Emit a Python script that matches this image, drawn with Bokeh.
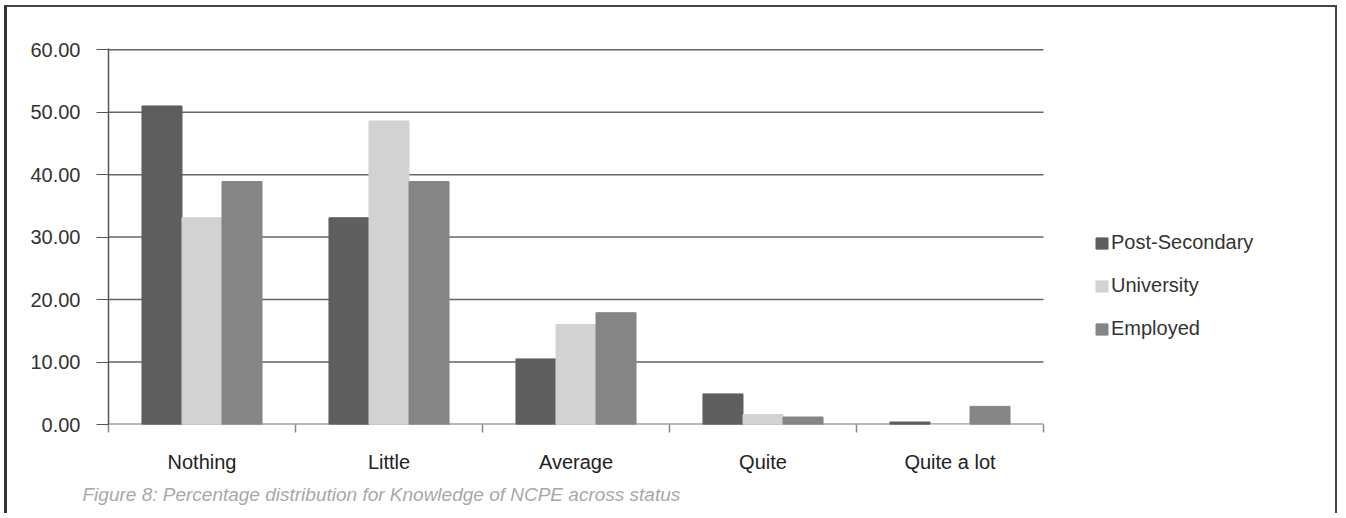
from bokeh.plotting import figure
from bokeh.models import ColumnDataSource, Range1d, Legend, LegendItem, Title, FixedTicker, CustomJSTickFormatter
from bokeh.transform import dodge
from bokeh.embed import file_html
from bokeh.resources import INLINE

categories = ["Nothing", "Little", "Average", "Quite", "Quite a lot"]
post_secondary = [51.0, 33.1, 10.5, 4.9, 0.4]
university = [33.1, 48.6, 16.0, 1.6, 0.0]
employed = [38.9, 38.9, 17.9, 1.2, 2.9]
series_names = ["Post-Secondary", "University", "Employed"]
series_colors = ["#5e5e5e", "#d2d2d2", "#858585"]
y_ticks = [0, 10, 20, 30, 40, 50, 60]
caption = "Figure 8: Percentage distribution for Knowledge of NCPE across status"

FONT = "Liberation Sans"
n = len(categories)
pos = list(range(n))

src = ColumnDataSource(dict(x=pos, ps=post_secondary, un=university, em=employed))

# frame extends to the right to hold the legend (287px beyond the 935px category area)
extra = 287 / (935 / n)
p = figure(x_range=Range1d(-0.5, n - 0.5 + extra), y_range=Range1d(0, 60.2),
           width=1333, height=508, output_backend="svg", toolbar_location=None,
           min_border_left=101, min_border_right=10, min_border_top=41, min_border_bottom=91)
p.styles = {"border-left": "3px solid #333", "border-top": "2px solid #444",
            "border-right": "2px solid #444", "box-sizing": "border-box",
            "margin": "5px 0 0 4px"}
p.outline_line_color = None
p.background_fill_color = "white"
p.border_fill_color = "white"
p.xgrid.grid_line_color = None
p.ygrid.grid_line_color = None

# horizontal gridlines over the category area only
p.segment(x0=-0.5, x1=n - 0.5, y0=y_ticks[1:], y1=y_ticks[1:], line_color="#666666", line_width=1.5)
# baseline
p.segment(x0=-0.5, x1=n - 0.5, y0=0, y1=0, line_color="#707070", line_width=2)

w = 0.214
renderers = []
for key, off, col in zip(["ps", "un", "em"], [-w, 0, w], series_colors):
    r = p.vbar(x=dodge("x", off), top=key, width=w, source=src,
               fill_color=col, line_color=col)
    renderers.append(r)

p.yaxis.ticker = FixedTicker(ticks=y_ticks)
p.yaxis.formatter = CustomJSTickFormatter(code="return tick.toFixed(2);")
p.yaxis.axis_line_color = "#555555"
p.yaxis.axis_line_width = 1.5
p.yaxis.major_tick_out = 12
p.yaxis.major_tick_in = 0
p.yaxis.major_tick_line_color = "#555555"
p.yaxis.minor_tick_line_color = None
p.yaxis.major_label_standoff = 16
p.yaxis.major_label_text_font = FONT
p.yaxis.major_label_text_font_size = "20px"
p.yaxis.major_label_text_color = "#333333"

p.xaxis.ticker = FixedTicker(ticks=pos, minor_ticks=[i - 0.5 for i in range(n + 1)])
p.xaxis.major_label_overrides = {i: c for i, c in enumerate(categories)}
p.xaxis.axis_line_color = None
p.xaxis.major_tick_line_color = None
p.xaxis.major_tick_out = 0
p.xaxis.major_tick_in = 0
p.xaxis.minor_tick_line_color = "#888888"
p.xaxis.minor_tick_line_width = 1.5
p.xaxis.minor_tick_out = 8
p.xaxis.minor_tick_in = 0
p.xaxis.major_label_standoff = 18
p.xaxis.major_label_text_font = FONT
p.xaxis.major_label_text_font_size = "20px"
p.xaxis.major_label_text_color = "#222222"

legend = Legend(items=[LegendItem(label=s, renderers=[r]) for s, r in zip(series_names, renderers)],
                location=(986, 84), glyph_width=15, glyph_height=14, label_standoff=2,
                spacing=20, padding=5, border_line_color=None, background_fill_alpha=0,
                label_text_font=FONT, label_text_font_size="20px", label_text_color="#333333",
                label_height=22)
p.add_layout(legend, "center")

cap = Title(text=caption, align="left", offset=-26, text_font=FONT, text_font_size="19px",
            text_font_style="italic", text_color="#a8a8a8", standoff=13)
p.add_layout(cap, "below")

open("out.html", "w").write(file_html(p, INLINE))
